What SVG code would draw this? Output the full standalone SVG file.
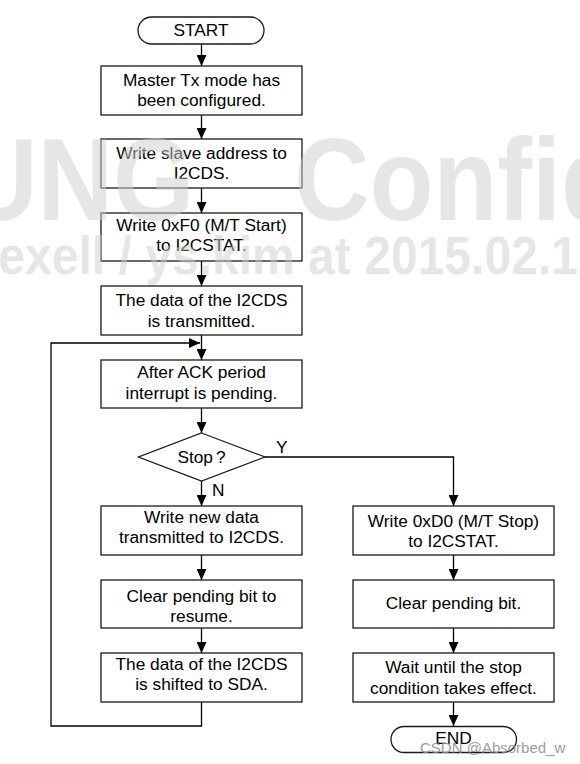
<svg xmlns="http://www.w3.org/2000/svg" width="580" height="764" viewBox="0 0 580 764">
<defs>
<marker id="ah" viewBox="0 0 11 10" markerWidth="11" markerHeight="10" refX="11" refY="5" orient="auto" markerUnits="userSpaceOnUse">
<path d="M0,0 L11,5 L0,10 z" fill="#000"/>
</marker>
</defs>
<style>
.box{fill:#fff;stroke:#1a1a1a;stroke-width:1.3}
.t{font-family:"Liberation Sans",Arial,sans-serif;font-size:17.3px;fill:#000;text-anchor:middle}
.lbl{font-family:"Liberation Sans",Arial,sans-serif;font-size:17.3px;fill:#000}
.c{fill:none;stroke:#000;stroke-width:1.3}
.wm{font-family:"Liberation Sans",Arial,sans-serif;font-weight:bold;fill:#cfcfcf}
</style>
<rect x="0" y="0" width="580" height="764" fill="#fff"/>

<g id="connectors">
<line class="c" x1="201.5" y1="44" x2="201.5" y2="66" marker-end="url(#ah)"/>
<line class="c" x1="201.5" y1="115" x2="201.5" y2="139" marker-end="url(#ah)"/>
<line class="c" x1="201.5" y1="188" x2="201.5" y2="213" marker-end="url(#ah)"/>
<line class="c" x1="201.5" y1="261" x2="201.5" y2="286" marker-end="url(#ah)"/>
<line class="c" x1="201.5" y1="335" x2="201.5" y2="360" marker-end="url(#ah)"/>
<line class="c" x1="201.5" y1="408" x2="201.5" y2="433" marker-end="url(#ah)"/>
<line class="c" x1="201.5" y1="481" x2="201.5" y2="506" marker-end="url(#ah)"/>
<line class="c" x1="201.5" y1="555" x2="201.5" y2="580" marker-end="url(#ah)"/>
<line class="c" x1="201.5" y1="628" x2="201.5" y2="653" marker-end="url(#ah)"/>
<polyline class="c" points="201.5,702 201.5,726 51,726 51,343 200,343" marker-end="url(#ah)"/>
<polyline class="c" points="265,457 453.5,457 453.5,506" marker-end="url(#ah)"/>
<line class="c" x1="453.5" y1="555" x2="453.5" y2="580" marker-end="url(#ah)"/>
<line class="c" x1="453.5" y1="628" x2="453.5" y2="653" marker-end="url(#ah)"/>
<line class="c" x1="453.5" y1="702" x2="453.5" y2="726" marker-end="url(#ah)"/>
<text class="lbl" x="276" y="453">Y</text>
<text class="lbl" x="212" y="496">N</text>
</g>

<g id="start">
<rect class="box" x="138" y="17" width="126" height="27" rx="13.5"/>
<text class="t" x="201" y="36">START</text>
</g>
<g id="master">
<rect class="box" x="101" y="66" width="201" height="49"/>
<text class="t" x="201.5" y="86">Master Tx mode has</text>
<text class="t" x="201.5" y="106">been configured.</text>
</g>
<g id="slave">
<rect class="box" x="101" y="139" width="201" height="49"/>
<text class="t" x="201.5" y="159">Write slave address to</text>
<text class="t" x="201.5" y="179">I2CDS.</text>
</g>
<g id="start-cmd">
<rect class="box" x="101" y="213" width="201" height="48"/>
<text class="t" x="201.5" y="231">Write 0xF0 (M/T Start)</text>
<text class="t" x="201.5" y="251">to I2CSTAT.</text>
</g>
<g id="data-tx">
<rect class="box" x="101" y="286" width="201" height="49"/>
<text class="t" x="201.5" y="306">The data of the I2CDS</text>
<text class="t" x="201.5" y="326.5">is transmitted.</text>
</g>
<g id="ack">
<rect class="box" x="101" y="360" width="201" height="48"/>
<text class="t" x="201.5" y="377.5">After ACK period</text>
<text class="t" x="201.5" y="398.5">interrupt is pending.</text>
</g>
<g id="stop-q">
<polygon class="box" points="201.5,433 265,457 201.5,481 138.5,457"/>
<text class="t" x="201.5" y="463">Stop<tspan dx="3">?</tspan></text>
</g>
<g id="write-new">
<rect class="box" x="101" y="506" width="201" height="49"/>
<text class="t" x="201.5" y="523">Write new data</text>
<text class="t" x="201.5" y="543">transmitted to I2CDS.</text>
</g>
<g id="clear-resume">
<rect class="box" x="101" y="580" width="201" height="48"/>
<text class="t" x="201.5" y="602">Clear pending bit to</text>
<text class="t" x="201.5" y="622">resume.</text>
</g>
<g id="data-shift">
<rect class="box" x="101" y="653" width="201" height="49"/>
<text class="t" x="201.5" y="670">The data of the I2CDS</text>
<text class="t" x="201.5" y="690">is shifted to SDA.</text>
</g>
<g id="stop-cmd">
<rect class="box" x="353" y="506" width="201" height="49"/>
<text class="t" x="453.5" y="527">Write 0xD0 (M/T Stop)</text>
<text class="t" x="453.5" y="547">to I2CSTAT.</text>
</g>
<g id="clear-bit">
<rect class="box" x="353" y="580" width="201" height="48"/>
<text class="t" x="453.5" y="609">Clear pending bit.</text>
</g>
<g id="wait-stop">
<rect class="box" x="353" y="653" width="201" height="49"/>
<text class="t" x="453.5" y="672.5">Wait until the stop</text>
<text class="t" x="453.5" y="693.5">condition takes effect.</text>
</g>
<g id="end">
<rect class="box" x="391" y="726.5" width="125.5" height="26" rx="13"/>
<text class="t" x="453.5" y="743.5">END</text>
</g>

<g id="watermark" opacity="0.5">
<g transform="scale(0.9 1)">
<text class="wm" x="-42" y="220" font-size="116">UNG</text>
<text class="wm" x="327" y="220" font-size="116">Confid</text>
</g>
<g transform="scale(0.89 1)">
<text class="wm" x="-2" y="274" font-size="54">exell / ys.kim at 2015.02.1</text>
</g>
</g>
<text x="420" y="753" font-family="Liberation Sans,Arial,sans-serif" font-size="15" fill="#8c8c8c" opacity="0.85">CSDN @Absorbed_w</text>
</svg>
